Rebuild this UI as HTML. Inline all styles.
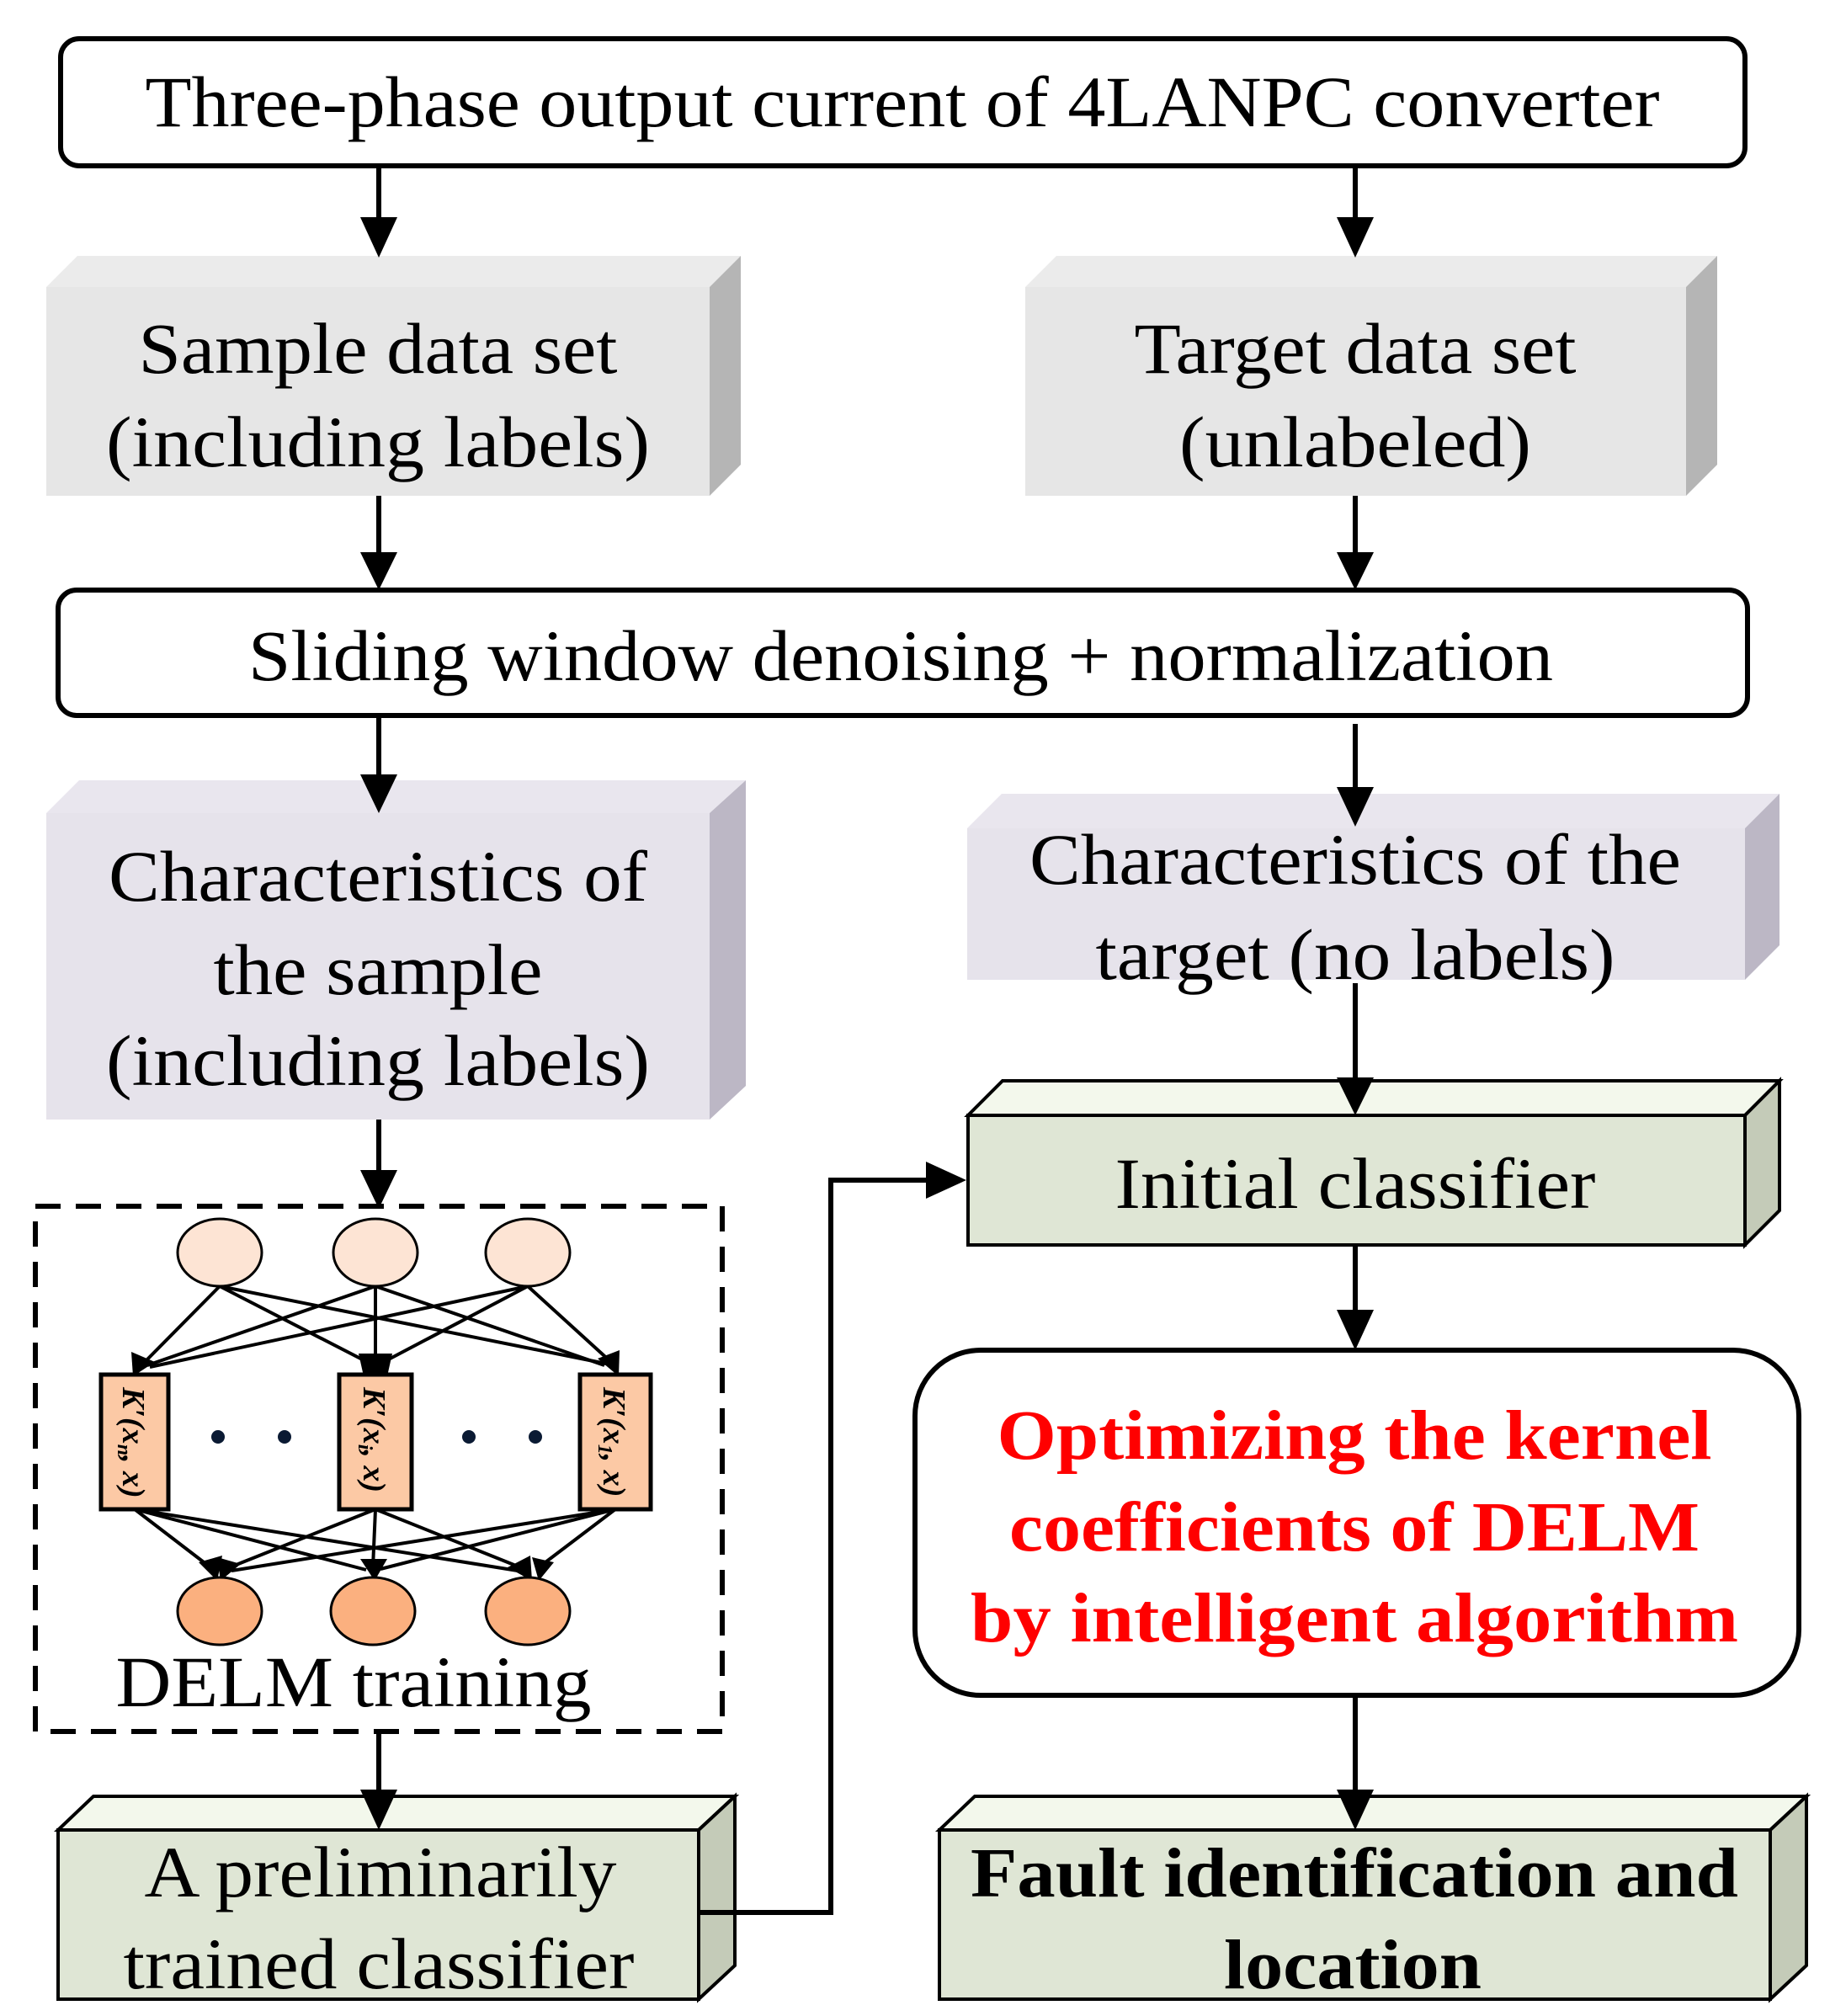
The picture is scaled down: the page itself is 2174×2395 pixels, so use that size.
<!DOCTYPE html>
<html><head><meta charset="utf-8"><style>
html,body{margin:0;padding:0;background:#fff}
svg{display:block}
text{font-family:"Liberation Serif",serif}
</style></head><body>
<svg width="2174" height="2395" viewBox="0 0 2174 2395" xmlns="http://www.w3.org/2000/svg">

<!-- top box -->
<rect x="72" y="46" width="2001" height="151" rx="22" fill="#fff" stroke="#000" stroke-width="6"/>
<text x="1072" y="150" font-size="86" text-anchor="middle" textLength="1799" lengthAdjust="spacingAndGlyphs">Three-phase output current of 4LANPC converter</text>

<!-- sample data set -->
<polygon points="55,341 92,304 880,304 843,341" fill="#ebebeb"/>
<polygon points="843,341 880,304 880,552 843,589" fill="#b5b5b5"/>
<rect x="55" y="341" width="788" height="248" fill="#e6e6e6"/>
<text x="449" y="443" font-size="86" text-anchor="middle" textLength="569" lengthAdjust="spacingAndGlyphs">Sample data set</text>
<text x="449" y="554" font-size="86" text-anchor="middle" textLength="646" lengthAdjust="spacingAndGlyphs">(including labels)</text>

<!-- target data set -->
<polygon points="1218,341 1255,304 2040,304 2003,341" fill="#ebebeb"/>
<polygon points="2003,341 2040,304 2040,552 2003,589" fill="#b5b5b5"/>
<rect x="1218" y="341" width="785" height="248" fill="#e6e6e6"/>
<text x="1610" y="443" font-size="86" text-anchor="middle" textLength="525" lengthAdjust="spacingAndGlyphs">Target data set</text>
<text x="1610" y="554" font-size="86" text-anchor="middle" textLength="418" lengthAdjust="spacingAndGlyphs">(unlabeled)</text>

<!-- sliding -->
<rect x="69" y="701" width="2007" height="149" rx="22" fill="#fff" stroke="#000" stroke-width="6"/>
<text x="1070" y="808" font-size="86" text-anchor="middle" textLength="1550" lengthAdjust="spacingAndGlyphs">Sliding window denoising + normalization</text>

<!-- characteristics sample -->
<polygon points="55,966 94,927 886,927 843,966" fill="#e9e6ee"/>
<polygon points="843,966 886,927 886,1290 843,1330" fill="#bcb7c5"/>
<rect x="55" y="966" width="788" height="364" fill="#e6e3eb"/>
<text x="449" y="1070" font-size="86" text-anchor="middle" textLength="640" lengthAdjust="spacingAndGlyphs">Characteristics of</text>
<text x="449" y="1181" font-size="86" text-anchor="middle" textLength="391" lengthAdjust="spacingAndGlyphs">the sample</text>
<text x="449" y="1289" font-size="86" text-anchor="middle" textLength="646" lengthAdjust="spacingAndGlyphs">(including labels)</text>

<!-- characteristics target -->
<polygon points="1149,984 1190,943 2114,943 2073,984" fill="#e9e6ee"/>
<polygon points="2073,984 2114,943 2114,1123 2073,1164" fill="#bcb7c5"/>
<rect x="1149" y="984" width="924" height="180" fill="#e6e3eb"/>
<text x="1610" y="1050" font-size="86" text-anchor="middle" textLength="774" lengthAdjust="spacingAndGlyphs">Characteristics of the</text>
<text x="1610" y="1163" font-size="86" text-anchor="middle" textLength="617" lengthAdjust="spacingAndGlyphs">target (no labels)</text>

<!-- initial classifier -->
<g stroke="#000" stroke-width="4">
<polygon points="1150,1325 1191,1284 2114,1284 2073,1325" fill="#f3f8ec"/>
<polygon points="2073,1325 2114,1284 2114,1438 2073,1479" fill="#c4cbb8"/>
<rect x="1150" y="1325" width="923" height="154" fill="#dfe6d5"/>
</g>
<text x="1610" y="1435" font-size="86" text-anchor="middle" textLength="571" lengthAdjust="spacingAndGlyphs">Initial classifier</text>

<!-- optimizing -->
<rect x="1087" y="1604" width="1050" height="410" rx="78" fill="#fff" stroke="#000" stroke-width="6"/>
<g fill="#ff0000" font-weight="bold" font-size="84" text-anchor="middle">
<text x="1609" y="1733" textLength="849" lengthAdjust="spacingAndGlyphs">Optimizing the kernel</text>
<text x="1609" y="1842" textLength="820" lengthAdjust="spacingAndGlyphs">coefficients of DELM</text>
<text x="1609" y="1950" textLength="912" lengthAdjust="spacingAndGlyphs">by intelligent algorithm</text>
</g>

<!-- fault -->
<g stroke="#000" stroke-width="4">
<polygon points="1116,2174 1158,2134 2146,2134 2103,2174" fill="#f3f8ec"/>
<polygon points="2103,2174 2146,2134 2146,2335 2103,2375" fill="#c4cbb8"/>
<rect x="1116" y="2174" width="987" height="201" fill="#dfe6d5"/>
</g>
<g font-weight="bold" font-size="84" text-anchor="middle">
<text x="1609" y="2253" textLength="912" lengthAdjust="spacingAndGlyphs">Fault identification and</text>
<text x="1607" y="2362" textLength="306" lengthAdjust="spacingAndGlyphs">location</text>
</g>

<!-- preliminary -->
<g stroke="#000" stroke-width="4">
<polygon points="69,2174 111,2134 873,2134 830,2174" fill="#f3f8ec"/>
<polygon points="830,2174 873,2134 873,2335 830,2375" fill="#c4cbb8"/>
<rect x="69" y="2174" width="761" height="201" fill="#dfe6d5"/>
</g>
<text x="452" y="2253" font-size="86" text-anchor="middle" textLength="561" lengthAdjust="spacingAndGlyphs">A preliminarily</text>
<text x="450" y="2362" font-size="86" text-anchor="middle" textLength="607" lengthAdjust="spacingAndGlyphs">trained classifier</text>

<!-- dashed box -->
<rect x="42" y="1433" width="816" height="624" fill="none" stroke="#000" stroke-width="6" stroke-dasharray="30,18"/>

<!-- network lines -->
<g stroke="#000" stroke-width="4">
<line x1="261" y1="1528" x2="170" y2="1620"/>
<line x1="261" y1="1528" x2="440" y2="1620"/>
<line x1="261" y1="1528" x2="720" y2="1620"/>
<line x1="446" y1="1528" x2="175" y2="1622"/>
<line x1="446" y1="1528" x2="446" y2="1620"/>
<line x1="446" y1="1528" x2="718" y2="1622"/>
<line x1="627" y1="1528" x2="178" y2="1624"/>
<line x1="627" y1="1528" x2="452" y2="1620"/>
<line x1="627" y1="1528" x2="728" y2="1620"/>
<line x1="160" y1="1793" x2="250" y2="1862"/>
<line x1="160" y1="1793" x2="435" y2="1865"/>
<line x1="160" y1="1793" x2="615" y2="1866"/>
<line x1="446" y1="1793" x2="268" y2="1864"/>
<line x1="446" y1="1793" x2="443" y2="1862"/>
<line x1="446" y1="1793" x2="618" y2="1862"/>
<line x1="731" y1="1793" x2="275" y2="1866"/>
<line x1="731" y1="1793" x2="452" y2="1864"/>
<line x1="731" y1="1793" x2="640" y2="1862"/>
</g>
<g fill="#000">
<polygon points="158,1635 156,1606 184,1618"/>
<polygon points="432,1635 426,1608 466,1608 460,1635"/>
<polygon points="735,1635 710,1614 736,1604"/>
<polygon points="258,1878 236,1856 264,1848"/>
<polygon points="445,1878 428,1852 460,1852"/>
<polygon points="632,1878 603,1862 630,1848"/>
<polygon points="262,1878 258,1850 286,1858"/>
<polygon points="640,1878 632,1850 658,1856"/>
</g>
<g stroke="#000" stroke-width="3">
<ellipse cx="261" cy="1488" rx="50" ry="40" fill="#fde4d4"/>
<ellipse cx="446" cy="1488" rx="50" ry="40" fill="#fde4d4"/>
<ellipse cx="627" cy="1488" rx="50" ry="40" fill="#fde4d4"/>
<ellipse cx="261" cy="1914" rx="50" ry="40" fill="#fbb07f"/>
<ellipse cx="443" cy="1914" rx="50" ry="40" fill="#fbb07f"/>
<ellipse cx="627" cy="1914" rx="50" ry="40" fill="#fbb07f"/>
</g>
<g stroke="#000" stroke-width="5" fill="#fcc9a5">
<rect x="120" y="1633" width="80" height="160"/>
<rect x="403" y="1633" width="86" height="160"/>
<rect x="689" y="1633" width="84" height="160"/>
</g>
<g font-size="38" font-weight="bold" font-style="italic">
<text transform="translate(146,1648) rotate(90)">K′(x<tspan font-size="24" dy="6">n</tspan><tspan dy="-6">, x)</tspan></text>
<text transform="translate(432,1648) rotate(90)">K′(x<tspan font-size="24" dy="6">i</tspan><tspan dy="-6">, x)</tspan></text>
<text transform="translate(717,1648) rotate(90)">K′(x<tspan font-size="24" dy="6">1</tspan><tspan dy="-6">, x)</tspan></text>
</g>
<g fill="#0a1a33">
<circle cx="259" cy="1707" r="8"/><circle cx="338" cy="1707" r="8"/>
<circle cx="557" cy="1707" r="8"/><circle cx="636" cy="1707" r="8"/>
</g>
<text x="420" y="2027" font-size="86" text-anchor="middle" textLength="565" lengthAdjust="spacingAndGlyphs">DELM training</text>

<!-- connectors on top -->
<g stroke="#000" stroke-width="6" fill="none">
<line x1="450" y1="197" x2="450" y2="262"/>
<line x1="1610" y1="197" x2="1610" y2="262"/>
<line x1="450" y1="589" x2="450" y2="660"/>
<line x1="1610" y1="589" x2="1610" y2="660"/>
<line x1="450" y1="850" x2="450" y2="925"/>
<line x1="1610" y1="860" x2="1610" y2="940"/>
<line x1="450" y1="1330" x2="450" y2="1395"/>
<line x1="1610" y1="1168" x2="1610" y2="1285"/>
<line x1="1610" y1="1479" x2="1610" y2="1560"/>
<line x1="1610" y1="2014" x2="1610" y2="2130"/>
<line x1="450" y1="2057" x2="450" y2="2130"/>
<polyline points="830,2272 987,2272 987,1402 1105,1402"/>
</g>
<g fill="#000">
<polygon points="428,258 472,258 450,306"/>
<polygon points="1588,258 1632,258 1610,306"/>
<polygon points="428,656 472,656 450,701"/>
<polygon points="1588,656 1632,656 1610,701"/>
<polygon points="428,920 472,920 450,966"/>
<polygon points="1588,935 1632,935 1610,982"/>
<polygon points="428,1390 472,1390 450,1436"/>
<polygon points="1588,1280 1632,1280 1610,1325"/>
<polygon points="1588,1556 1632,1556 1610,1604"/>
<polygon points="1588,2126 1632,2126 1610,2174"/>
<polygon points="428,2126 472,2126 450,2174"/>
<polygon points="1100,1380 1100,1424 1148,1402"/>
</g>
</svg>
</body></html>
